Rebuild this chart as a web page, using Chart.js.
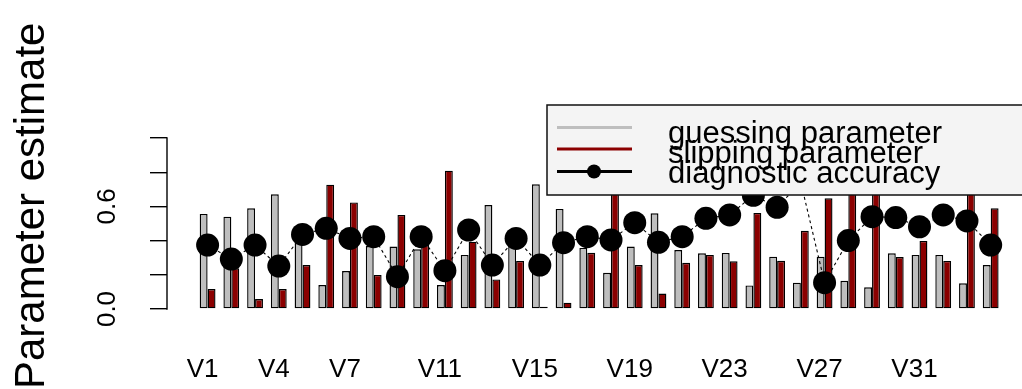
<!DOCTYPE html>
<html><head><meta charset="utf-8">
<script src="https://cdn.jsdelivr.net/npm/chart.js@4.4.1/dist/chart.umd.min.js"></script>
<style>html,body{margin:0;padding:0;background:#fff;overflow:hidden}#wrap{width:1022px;height:389px}</style>
</head><body><div id="wrap"><canvas id="c" width="1022" height="389"></canvas></div>
<script>
const categories = ['V1','V2','V3','V4','V5','V6','V7','V8','V9','V10','V11','V12','V13','V14','V15','V16','V17',
  'V18','V19','V20','V21','V22','V23','V24','V25','V26','V27','V28','V29','V30','V31','V32','V33','V34'];
const guessing = [0.556,0.54,0.589,0.671,0.385,0.14,0.222,0.368,0.365,0.349,0.14,0.316,0.608,0.37,0.729,0.585,0.357,
  0.212,0.365,0.56,0.345,0.326,0.328,0.138,0.306,0.154,0.306,0.165,0.127,0.326,0.316,0.316,0.15,0.257];
const slipping = [0.117,0.238,0.058,0.117,0.257,0.727,0.623,0.199,0.55,0.374,0.809,0.394,0.173,0.281,0.013,0.037,0.329,
  0.80,0.257,0.09,0.27,0.316,0.279,0.562,0.282,0.457,0.647,0.85,0.82,0.304,0.398,0.281,0.88,0.589];
const accuracy = [0.374,0.292,0.374,0.251,0.436,0.472,0.413,0.423,0.189,0.423,0.224,0.462,0.257,0.413,0.257,0.388,0.423,
  0.404,0.505,0.39,0.423,0.53,0.55,0.665,0.595,0.74,0.154,0.40,0.54,0.535,0.481,0.55,0.515,0.374];
const seriesNames = ['guessing parameter','slipping parameter','diagnostic accuracy'];
const tickCategories = ['V1','V4','V7','V11','V15','V19','V23','V27','V31'];
const yTicks = [0,0.2,0.4,0.6,0.8,1.0];
const yLabeled = [0,0.6];

const FONT = "'Liberation Sans', Arial, sans-serif";
const xPos = categories.map((c,i)=>i+1);
const tickPositions = tickCategories.map(c=>categories.indexOf(c)+1);

const axisLine = { id:'axisLine', afterDraw(chart){
  const c = chart.ctx, y = chart.scales.y, x = chart.chartArea.left;
  c.save(); c.strokeStyle='#000'; c.lineWidth=1.4; c.beginPath();
  c.moveTo(x, y.getPixelForValue(yTicks[0])+0.7); c.lineTo(x, y.getPixelForValue(yTicks[yTicks.length-1])-0.7);
  c.stroke(); c.restore();
}};

const legendBox = { id:'legendBox', afterDraw(chart){
  const c = chart.ctx, ds = chart.data.datasets;
  const L = 547, T = 105, W = 520, H = 90;
  c.save();
  c.fillStyle = '#F4F4F4'; c.fillRect(L,T,W,H);
  c.lineWidth = 1.5; c.strokeStyle = '#111'; c.strokeRect(L,T,W,H);
  const lineY = [127.5, 149, 171.5], textY = [143, 162.5, 182.5];
  ds.forEach((d,i)=>{
    const col = d.type === 'line' ? d.borderColor : d.backgroundColor;
    c.strokeStyle = col; c.lineWidth = 3; c.setLineDash([]);
    c.beginPath(); c.moveTo(557, lineY[i]); c.lineTo(632, lineY[i]); c.stroke();
    if (d.type === 'line') { c.fillStyle = col; c.beginPath(); c.arc(594, lineY[i], 7, 0, Math.PI*2); c.fill(); }
    c.fillStyle = '#000'; c.font = "31px " + FONT; c.textAlign='left'; c.textBaseline='alphabetic';
    c.fillText(d.label, 668, textY[i]);
  });
  c.restore();
}};

const UNIT = 23.73, C1 = 207.6;
new Chart(document.getElementById('c'), {
  type:'bar',
  data:{ datasets:[
    {label:seriesNames[0], data:guessing.map((v,i)=>({x:xPos[i],y:v})), backgroundColor:'#BEBEBE', borderColor:'#000', borderWidth:1.4, borderSkipped:false, order:1},
    {label:seriesNames[1], data:slipping.map((v,i)=>({x:xPos[i],y:v})), backgroundColor:'#8B0000', borderColor:'#000', borderWidth:1.4, borderSkipped:false, order:1},
    {type:'line', label:seriesNames[2], data:accuracy.map((v,i)=>({x:xPos[i],y:v})), borderColor:'#000', borderWidth:1.1, borderDash:[3,3],
      pointRadius:11.5, pointBackgroundColor:'#000', pointBorderColor:'#000', pointBorderWidth:0, tension:0, order:0}
  ]},
  options:{
    responsive:false, animation:false, devicePixelRatio:1,
    layout:{padding:0, autoPadding:false},
    datasets:{bar:{categoryPercentage:2/3, barPercentage:1, grouped:true}},
    scales:{
      x:{type:'linear', offset:false, bounds:'data', min:1-(C1-167)/UNIT, max:1+(1022-C1)/UNIT,
        grid:{display:false, offset:false, drawTicks:true, tickLength:34}, border:{display:false},
        afterBuildTicks:s=>{ s.ticks = tickPositions.map(v=>({value:v})); },
        ticks:{autoSkip:false, minRotation:0, maxRotation:0, padding:0, labelOffset:-5, color:'#000', font:{family:FONT,size:26},
          callback:(v,i)=>tickCategories[i]},
        afterFit:s=>{ s.height = 69; s.paddingLeft = 0; s.paddingRight = 0; }},
      y:{min:(309-320)/171, max:309/171, bounds:'data',
        grid:{drawOnChartArea:false, drawTicks:true, tickLength:17, color:'#000', lineWidth:1.4}, border:{display:false},
        afterBuildTicks:s=>{ s.ticks = yTicks.map(v=>({value:v})); },
        ticks:{autoSkip:false, minRotation:90, maxRotation:90, crossAlign:'center', padding:24, color:'#000', font:{family:FONT,size:26},
          callback:v=> yLabeled.includes(v) ? v.toFixed(1) : ''},
        afterFit:s=>{ s.width = 167 - 57.4; s.paddingTop = 0; s.paddingBottom = 0; }}
    },
    plugins:{legend:{display:false}, tooltip:{enabled:false},
      title:{display:true, position:'left', align:'start', text:'Parameter estimate', color:'#000',
        font:{family:FONT, size:42, weight:'normal', lineHeight:1.2}, padding:{top:7, bottom:0}}}
  },
  plugins:[axisLine, legendBox]
});
</script></body></html>
